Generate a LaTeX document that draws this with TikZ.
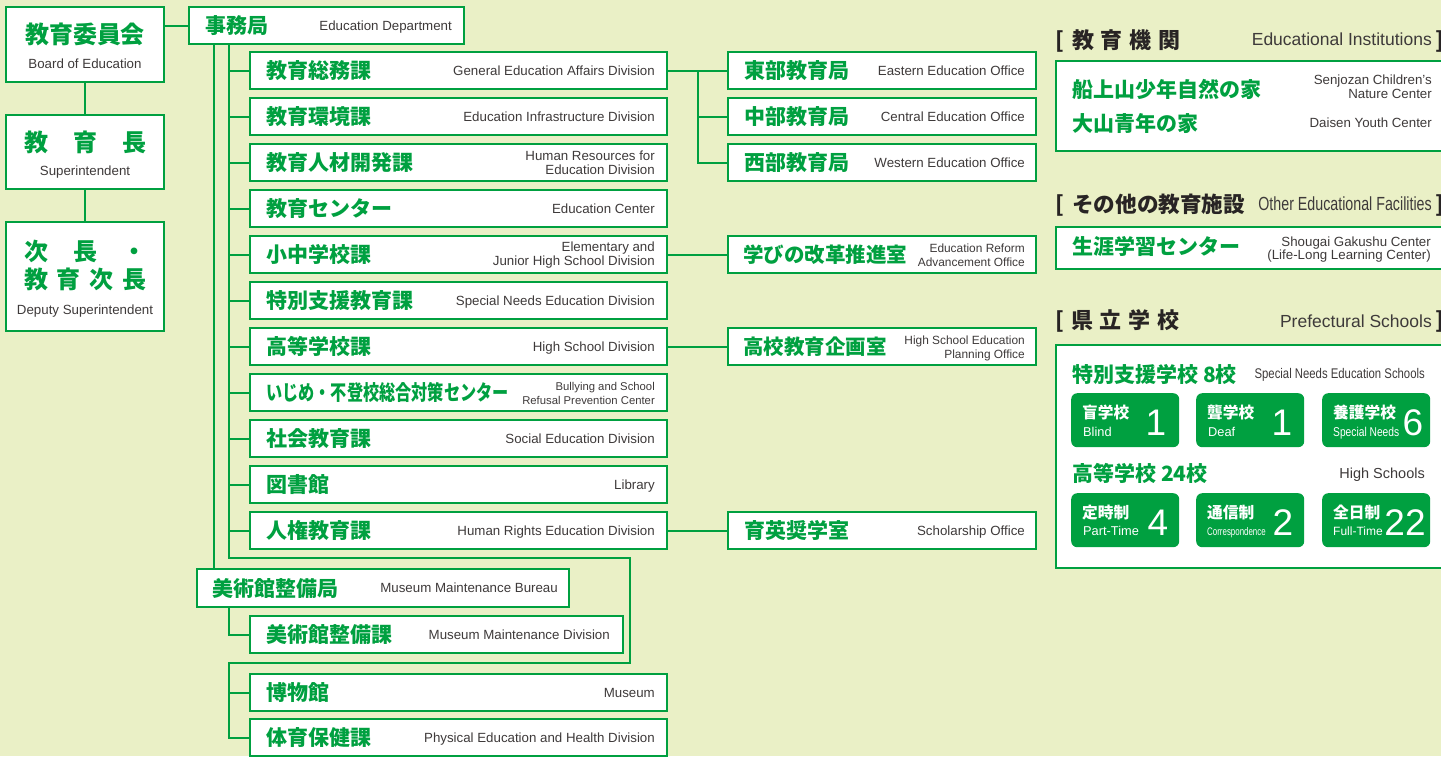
\documentclass[tikz,border=0pt]{standalone}
\usepackage{fontspec}
\usepackage{graphicx}
\setmainfont{Liberation Sans}
\newfontfamily\jpf{Noto Sans CJK JP}
\usetikzlibrary{calc}
\definecolor{bg}{RGB}{234,240,198}
\definecolor{grn}{RGB}{0,160,64}
\definecolor{gry}{RGB}{62,58,58}
\definecolor{dk}{RGB}{40,36,36}
\tikzset{
  box/.style={draw=grn, line width=2, fill=white, inner sep=0, outer sep=0},
  ln/.style={draw=grn, line width=2},
  jp/.style={inner sep=0, text=grn, font=\jpf\bfseries\fontsize{21}{24}\selectfont},
  jpl/.style={inner sep=0, text=grn, font=\jpf\bfseries\fontsize{24}{26}\selectfont},
  hd/.style={inner sep=0, text=dk, font=\jpf\bfseries\fontsize{22}{24}\selectfont},
  hdb/.style={inner sep=0, text=dk, font=\jpf\bfseries\fontsize{22}{24}\selectfont},
  hde/.style={inner sep=0, text=gry, font=\fontsize{17.5}{20}\selectfont},
  en/.style={inner sep=0, text=gry, font=\fontsize{13.3}{14}\selectfont},
  ens/.style={inner sep=0, text=gry, font=\fontsize{11.9}{14}\selectfont},
  enxs/.style={inner sep=0, text=gry, font=\fontsize{11.3}{13}\selectfont},
  sbox/.style={fill=grn, draw=none, rounded corners=6, minimum width=108, minimum height=54, inner sep=0, anchor=north west},
  wj/.style={inner sep=0, text=white, font=\jpf\bfseries\fontsize{15.7}{17}\selectfont},
  we/.style={inner sep=0, text=white, font=\fontsize{12.8}{14}\selectfont},
  wn/.style={inner sep=0, text=white, font=\fontsize{37}{40}\selectfont},
}
% division box: name, x left, x right, y centre, japanese
\newcommand\bxj[5]{%
  \node[box, minimum width={#3-#2}, minimum height=37, anchor=west] (#1) at (#2,#4) {};
  \node[jp, anchor=base west] (#1j) at ({#2+16},{#4+8}) {#5};}
% english single line: name, x right, y centre, text
\newcommand\enl[4]{\node[en, anchor=base east] (#1) at (#2,{#3+4.8}) {#4};}
% english two lines: name, x right, y centre, line1, line2, style
\newcommand\entw[6]{%
  \node[#6, anchor=base east] (#1a) at (#2,{#3-7+4.5}) {#4};
  \node[#6, anchor=base east] (#1b) at (#2,{#3+7+4.5}) {#5};}
\begin{document}
\begin{tikzpicture}[x=1pt,y=-1pt]
\useasboundingbox (0,0) rectangle (1441,756);
\clip (0,0) rectangle (1441,756);
\fill[bg] (0,0) rectangle (1441,756);

% ---------- left column ----------
\node[box, minimum width=158, minimum height=75, anchor=north west] (boe) at (6,7) {};
\node[jpl, anchor=base] (boej) at (85,43.7) {教育委員会};
\node[en, anchor=base] (boee) at (85,68) {Board of Education};
\node[box, minimum width=158, minimum height=74, anchor=north west] (sup) at (6,115) {};
\node[jpl, anchor=base west] (supj) at (24,151.7) {\makebox[122pt][s]{教\hfill 育\hfill 長}};
\node[en, anchor=base] (supe) at (85,175) {Superintendent};
\node[box, minimum width=158, minimum height=109, anchor=north west] (dep) at (6,222) {};
\node[jpl, anchor=base west] (depj1) at (24,260) {\makebox[122pt][s]{次\hfill 長\hfill ・}};
\node[jpl, anchor=base west] (depj2) at (24,288) {\makebox[122pt][s]{教\hfill 育\hfill 次\hfill 長}};
\node[en, anchor=base] (depe) at (85,314) {Deputy Superintendent};
\draw[ln] (boe.south) -- (sup.north);
\draw[ln] (sup.south) -- (dep.north);

% ---------- 事務局 ----------
\bxj{jm}{189}{464}{25.5}{事務局}
\node[en, anchor=base east] (jme) at (452,30.3) {Education Department};
\draw[ln] (boe.east |- jm.west) -- (jm.west);

% ---------- divisions ----------
\bxj{d1}{250}{667}{70.5}{教育総務課}
\enl{d1e}{655}{70.5}{General Education Affairs Division}
\bxj{d2}{250}{667}{116.5}{教育環境課}
\enl{d2e}{655}{116.5}{Education Infrastructure Division}
\bxj{d3}{250}{667}{162.5}{教育人材開発課}
\entw{d3e}{655}{163}{Human Resources for}{Education Division}{en}
\bxj{d4}{250}{667}{208.5}{教育センター}
\enl{d4e}{655}{208.5}{Education Center}
\bxj{d5}{250}{667}{254.5}{小中学校課}
\entw{d5e}{655}{254}{Elementary and}{Junior High School Division}{en}
\bxj{d6}{250}{667}{300.5}{特別支援教育課}
\enl{d6e}{655}{300.5}{Special Needs Education Division}
\bxj{d7}{250}{667}{346.5}{高等学校課}
\enl{d7e}{655}{346.5}{High School Division}
\node[box, minimum width=417, minimum height=37, anchor=west] (d8) at (250,392.5) {};
\node[jp, anchor=base west] (d8j) at (266,400.5) {\scalebox{0.77}[1]{いじめ・不登校総合対策センター}};
\entw{d8e}{655}{393}{Bullying and School}{Refusal Prevention Center}{enxs}
\bxj{d9}{250}{667}{438.5}{社会教育課}
\enl{d9e}{655}{438.5}{Social Education Division}
\bxj{d10}{250}{667}{484.5}{図書館}
\enl{d10e}{655}{484.5}{Library}
\bxj{d11}{250}{667}{530.5}{人権教育課}
\enl{d11e}{655}{530.5}{Human Rights Education Division}
\bxj{d12}{250}{667}{692.5}{博物館}
\enl{d12e}{655}{692.5}{Museum}
\bxj{d13}{250}{667}{737.5}{体育保健課}
\enl{d13e}{655}{737.5}{Physical Education and Health Division}

% ---------- 美術館整備局 ----------
\node[box, minimum width=372, minimum height=38, anchor=west] (bk) at (197,588) {};
\node[jp, anchor=base west] (bkj) at (212,596) {美術館整備局};
\enl{bke}{558}{588}{Museum Maintenance Bureau}
\bxj{bd}{250}{623}{634.5}{美術館整備課}
\enl{bde}{610}{634.5}{Museum Maintenance Division}

% ---------- trunk ----------
\coordinate (trA) at (229,44);
\coordinate (trB) at (229,558);
\coordinate (trC) at (630,558);
\coordinate (trD) at (630,663);
\coordinate (trE) at (229,663);
\coordinate (trK) at (214,44);
\draw[ln] (trA) -- (trB) -- (trC) -- (trD) -- (trE) |- (d13.west);
\foreach \i in {1,...,11} {\draw[ln] (trA |- d\i.west) -- (d\i.west);}
\draw[ln] (trE |- d12.west) -- (d12.west);
\draw[ln] (trK) -- (trK |- bk.north);
\draw[ln] (bk.south -| trA) |- (bd.west);

% ---------- middle column ----------
\bxj{m1}{728}{1036}{70.5}{東部教育局}
\enl{m1e}{1025}{70.5}{Eastern Education Office}
\bxj{m2}{728}{1036}{116.5}{中部教育局}
\enl{m2e}{1025}{116.5}{Central Education Office}
\bxj{m3}{728}{1036}{162.5}{西部教育局}
\enl{m3e}{1025}{162.5}{Western Education Office}
\node[box, minimum width=308, minimum height=37, anchor=west] (m5) at (728,254.5) {};
\node[jp, anchor=base west, font=\jpf\bfseries\fontsize{20.5}{24}\selectfont] (m5j) at (743,262.5) {学びの改革推進室};
\entw{m5e}{1025}{255}{Education Reform}{Advancement Office}{ens}
\node[box, minimum width=308, minimum height=37, anchor=west] (m7) at (728,346.5) {};
\node[jp, anchor=base west, font=\jpf\bfseries\fontsize{20.5}{24}\selectfont] (m7j) at (743,354.5) {高校教育企画室};
\entw{m7e}{1025}{347}{High School Education}{Planning Office}{ens}
\bxj{m11}{728}{1036}{530.5}{育英奨学室}
\enl{m11e}{1025}{530.5}{Scholarship Office}
\coordinate (mv) at (698,0);
\draw[ln] (d1.east) -- (m1.west);
\draw[ln] (d1.east -| mv) |- (m3.west);
\draw[ln] (mv |- m2.west) -- (m2.west);
\draw[ln] (d5.east) -- (m5.west);
\draw[ln] (d7.east) -- (m7.west);
\draw[ln] (d11.east) -- (m11.west);

% ---------- right: 教育機関 ----------
\node[hdb, anchor=base west] (h1l) at (1055,48.5) {[};
\node[hd, anchor=base west] (h1j) at (1072,48.5) {\makebox[108pt][s]{教\hfill 育\hfill 機\hfill 関}};
\node[hde, anchor=base east] (h1e) at (1432,45) {Educational Institutions};
\node[hdb, anchor=base west] (h1r) at (1435,48.5) {]};
\node[box, minimum width=400, minimum height=90, anchor=north west] (p1) at (1056,61) {};
\node[jp, anchor=base west] (p1j1) at (1072,97) {船上山少年自然の家};
\entw{p1e1}{1432}{87}{Senjozan Children's}{Nature Center}{en}
\node[jp, anchor=base west] (p1j2) at (1072,131.5) {大山青年の家};
\enl{p1e2}{1432}{123}{Daisen Youth Center}

% ---------- right: その他の教育施設 ----------
\node[hdb, anchor=base west] (h2l) at (1055,212.5) {[};
\node[hd, anchor=base west, font=\jpf\bfseries\fontsize{21.6}{24}\selectfont] (h2j) at (1072,212.5) {その他の教育施設};
\node[inner sep=0, text=gry, font=\fontsize{19}{20}\selectfont, anchor=base east] (h2e) at (1432,210) {\scalebox{0.75}[1]{Other Educational Facilities}};
\node[hdb, anchor=base west] (h2r) at (1435,212.5) {]};
\node[box, minimum width=400, minimum height=42, anchor=north west] (p2) at (1056,227) {};
\node[jp, anchor=base west] (p2j) at (1072,254) {生涯学習センター};
\node[en, anchor=base east] (p2ea) at (1431,246.8) {Shougai Gakushu Center};
\node[en, anchor=base east] (p2eb) at (1431,259.8) {(Life-Long Learning Center)};

% ---------- right: 県立学校 ----------
\node[hdb, anchor=base west] (h3l) at (1055,328.5) {[};
\node[hd, anchor=base west] (h3j) at (1071,328.5) {\makebox[108pt][s]{県\hfill 立\hfill 学\hfill 校}};
\node[hde, anchor=base east] (h3e) at (1432,327) {Prefectural Schools};
\node[hdb, anchor=base west] (h3r) at (1435,328.5) {]};
\node[box, minimum width=400, minimum height=223, anchor=north west] (p3) at (1056,345) {};
\node[jp, anchor=base west] (p3j1) at (1072,382) {特別支援学校 8校};
\node[inner sep=0, text=gry, font=\fontsize{14}{16}\selectfont, anchor=base east] (p3e1) at (1425,378) {\scalebox{0.81}[1]{Special Needs Education Schools}};
\node[jp, anchor=base west] (p3j2) at (1072,481.5) {高等学校 24校};
\node[inner sep=0, text=gry, font=\fontsize{14.5}{16}\selectfont, anchor=base east] (p3e2) at (1425,478) {High Schools};

% school boxes row 1
\node[sbox] (s1) at (1071,393) {};
\node[wj, anchor=base west] (s1j) at (1082,418.5) {盲学校};
\node[we, anchor=base west] (s1e) at (1083,436) {Blind};
\node[wn, anchor=base] (s1n) at (1156,435) {1};
\node[sbox] (s2) at (1196,393) {};
\node[wj, anchor=base west] (s2j) at (1207,418.5) {聾学校};
\node[we, anchor=base west] (s2e) at (1208,436) {Deaf};
\node[wn, anchor=base] (s2n) at (1282,435) {1};
\node[sbox] (s3) at (1322,393) {};
\node[wj, anchor=base west] (s3j) at (1333,418.5) {養護学校};
\node[we, anchor=base west] (s3e) at (1333,436) {\scalebox{0.8}[1]{Special Needs}};
\node[wn, anchor=base] (s3n) at (1413,435) {6};
% school boxes row 2
\node[sbox] (s4) at (1071,493) {};
\node[wj, anchor=base west] (s4j) at (1082,518) {定時制};
\node[we, anchor=base west] (s4e) at (1083,535) {Part-Time};
\node[wn, anchor=base] (s4n) at (1158,535) {4};
\node[sbox] (s5) at (1196,493) {};
\node[wj, anchor=base west] (s5j) at (1207,518) {通信制};
\node[we, anchor=base west, font=\fontsize{11}{12}\selectfont] (s5e) at (1207,535) {\scalebox{0.72}[1]{Correspondence}};
\node[wn, anchor=base] (s5n) at (1283,535) {2};
\node[sbox] (s6) at (1322,493) {};
\node[wj, anchor=base west] (s6j) at (1333,518) {全日制};
\node[we, anchor=base west, font=\fontsize{12}{13}\selectfont] (s6e) at (1333,535) {Full-Time};
\node[wn, anchor=base] (s6n) at (1405,535) {22};
\end{tikzpicture}
\end{document}
